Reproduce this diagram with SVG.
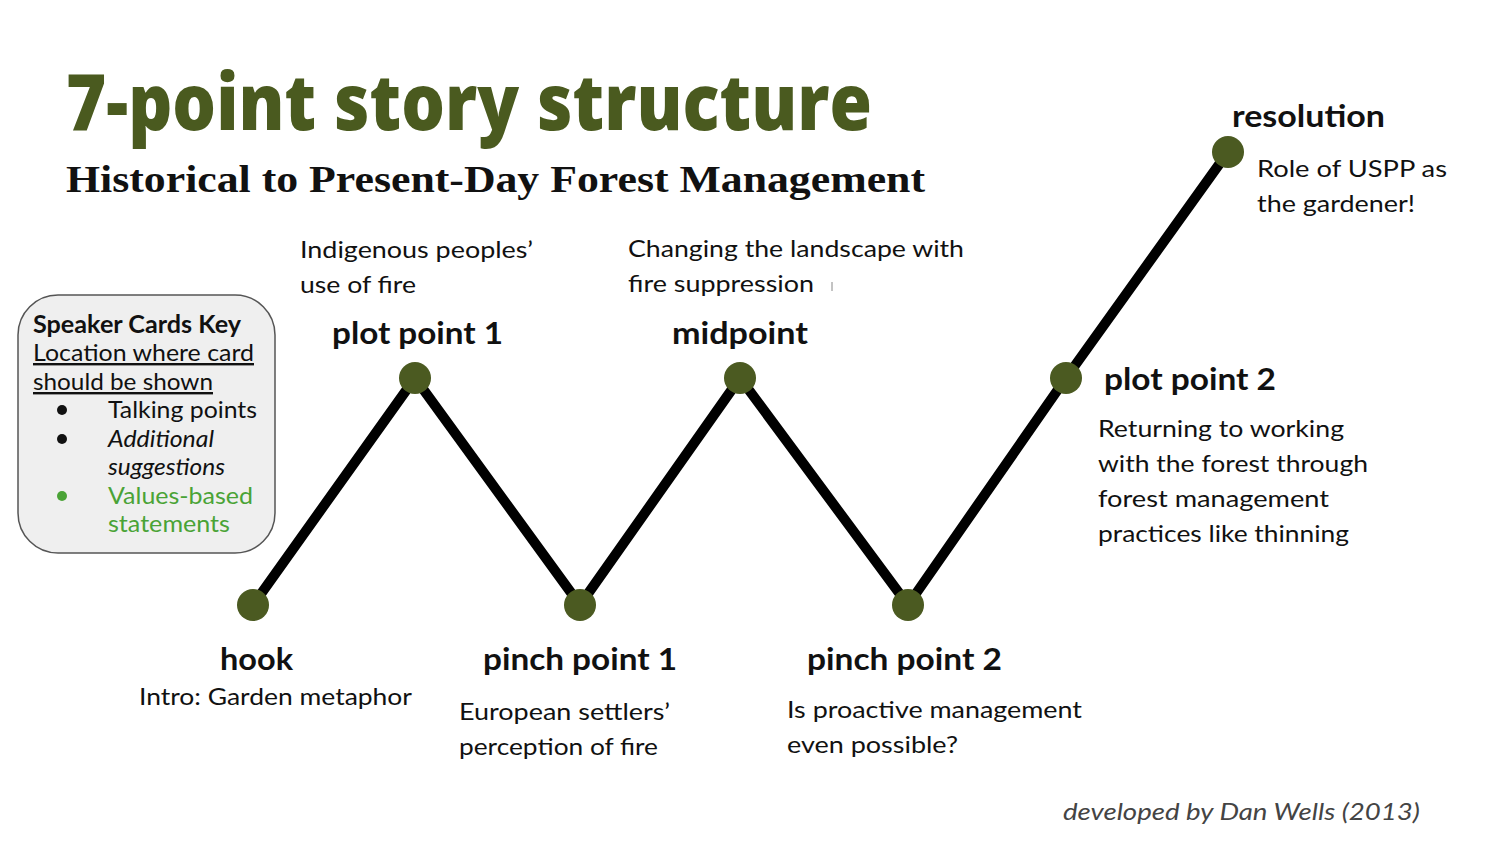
<svg xmlns="http://www.w3.org/2000/svg" width="1500" height="844" viewBox="0 0 1500 844">
  <defs>
    <style>
      .title { font-family: "Open Sans", "Lato", sans-serif; font-weight: 800; fill: #4a5a1f; }
      .subtitle { font-family: "Liberation Serif", "DejaVu Serif", serif; font-weight: bold; fill: #111; }
      .label { font-family: "Lato", "Noto Sans", sans-serif; font-weight: bold; font-size: 30px; fill: #111; }
      .body { font-family: "Lato", "Noto Sans", sans-serif; font-size: 24px; fill: #111; }
      .key { font-family: "Lato", "Noto Sans", sans-serif; font-size: 24px; fill: #111; }
      .green { fill: #4aa336; }
      .credit { font-family: "Lato", "Noto Sans", sans-serif; font-style: italic; font-size: 24px; fill: #444; }
      .dot { fill: #4b5a21; }
    </style>
  </defs>
  <rect width="1500" height="844" fill="#ffffff"/>

  <!-- headings -->
  <text class="title" x="66" y="130" font-size="78" textLength="806" lengthAdjust="spacingAndGlyphs">7-point story structure</text>
  <text class="subtitle" x="66" y="192" font-size="38" textLength="859" lengthAdjust="spacingAndGlyphs">Historical to Present-Day Forest Management</text>

  <!-- zigzag story line -->
  <g id="connectors">
    <polyline points="253,605 415,378 580,605 740,378 908,605 1066,378 1228,152" fill="none" stroke="#000" stroke-width="10" stroke-linejoin="round" stroke-linecap="round"/>
  </g>

  <!-- legend card -->
  <g id="key">
    <rect x="18" y="295" width="257" height="258" rx="40" ry="40" fill="#efefef" stroke="#555" stroke-width="1.5"/>
    <text class="key" x="33" y="333" font-weight="bold" textLength="208" lengthAdjust="spacingAndGlyphs">Speaker Cards Key</text>
    <text class="key" x="33" y="361" text-decoration="underline" textLength="221" lengthAdjust="spacingAndGlyphs">Location where card</text>
    <text class="key" x="33" y="390" text-decoration="underline" textLength="180" lengthAdjust="spacingAndGlyphs">should be shown</text>
    <circle cx="62" cy="410" r="5" fill="#111"/>
    <text class="key" x="108" y="418" textLength="149" lengthAdjust="spacingAndGlyphs">Talking points</text>
    <circle cx="62" cy="439" r="5" fill="#111"/>
    <text class="key" x="108" y="447" font-style="italic" textLength="106" lengthAdjust="spacingAndGlyphs">Additional</text>
    <text class="key" x="108" y="475" font-style="italic" textLength="117" lengthAdjust="spacingAndGlyphs">suggestions</text>
    <circle cx="62" cy="496" r="5" fill="#4aa336"/>
    <text class="key green" x="108" y="504" textLength="145" lengthAdjust="spacingAndGlyphs">Values-based</text>
    <text class="key green" x="108" y="532" textLength="122" lengthAdjust="spacingAndGlyphs">statements</text>
  </g>

  <g id="hook">
    <circle class="dot" cx="253" cy="605" r="16"/>
    <text class="label" x="220" y="670" textLength="73" lengthAdjust="spacingAndGlyphs">hook</text>
    <text class="body" x="139" y="705" textLength="273" lengthAdjust="spacingAndGlyphs">Intro: Garden metaphor</text>
  </g>

  <g id="plot-point-1">
    <circle class="dot" cx="415" cy="378" r="16"/>
    <text class="label" x="332" y="344" textLength="171" lengthAdjust="spacingAndGlyphs">plot point 1</text>
    <text class="body" x="300" y="258" textLength="233" lengthAdjust="spacingAndGlyphs">Indigenous peoples’</text>
    <text class="body" x="300" y="293" textLength="116" lengthAdjust="spacingAndGlyphs">use of fire</text>
  </g>

  <g id="pinch-point-1">
    <circle class="dot" cx="580" cy="605" r="16"/>
    <text class="label" x="483" y="670" textLength="194" lengthAdjust="spacingAndGlyphs">pinch point 1</text>
    <text class="body" x="459" y="720" textLength="211" lengthAdjust="spacingAndGlyphs">European settlers’</text>
    <text class="body" x="459" y="755" textLength="199" lengthAdjust="spacingAndGlyphs">perception of fire</text>
  </g>

  <g id="midpoint">
    <circle class="dot" cx="740" cy="378" r="16"/>
    <text class="label" x="672" y="344" textLength="136" lengthAdjust="spacingAndGlyphs">midpoint</text>
    <text class="body" x="628" y="257" textLength="336" lengthAdjust="spacingAndGlyphs">Changing the landscape with</text>
    <text class="body" x="628" y="292" textLength="186" lengthAdjust="spacingAndGlyphs">fire suppression</text>
    <line x1="832" y1="282" x2="832" y2="291" stroke="#888" stroke-width="1"/>
  </g>

  <g id="pinch-point-2">
    <circle class="dot" cx="908" cy="605" r="16"/>
    <text class="label" x="807" y="670" textLength="195" lengthAdjust="spacingAndGlyphs">pinch point 2</text>
    <text class="body" x="787" y="718" textLength="295" lengthAdjust="spacingAndGlyphs">Is proactive management</text>
    <text class="body" x="787" y="753" textLength="171" lengthAdjust="spacingAndGlyphs">even possible?</text>
  </g>

  <g id="plot-point-2">
    <circle class="dot" cx="1066" cy="378" r="16"/>
    <text class="label" x="1104" y="390" textLength="172" lengthAdjust="spacingAndGlyphs">plot point 2</text>
    <text class="body" x="1098" y="437" textLength="246" lengthAdjust="spacingAndGlyphs">Returning to working</text>
    <text class="body" x="1098" y="472" textLength="270" lengthAdjust="spacingAndGlyphs">with the forest through</text>
    <text class="body" x="1098" y="507" textLength="231" lengthAdjust="spacingAndGlyphs">forest management</text>
    <text class="body" x="1098" y="542" textLength="251" lengthAdjust="spacingAndGlyphs">practices like thinning</text>
  </g>

  <g id="resolution">
    <circle class="dot" cx="1228" cy="152" r="16"/>
    <text class="label" x="1232" y="127" textLength="153" lengthAdjust="spacingAndGlyphs">resolution</text>
    <text class="body" x="1257" y="177" textLength="190" lengthAdjust="spacingAndGlyphs">Role of USPP as</text>
    <text class="body" x="1257" y="212" textLength="158" lengthAdjust="spacingAndGlyphs">the gardener!</text>
  </g>

  <text class="credit" x="1063" y="820" textLength="357" lengthAdjust="spacingAndGlyphs">developed by Dan Wells (2013)</text>
</svg>
